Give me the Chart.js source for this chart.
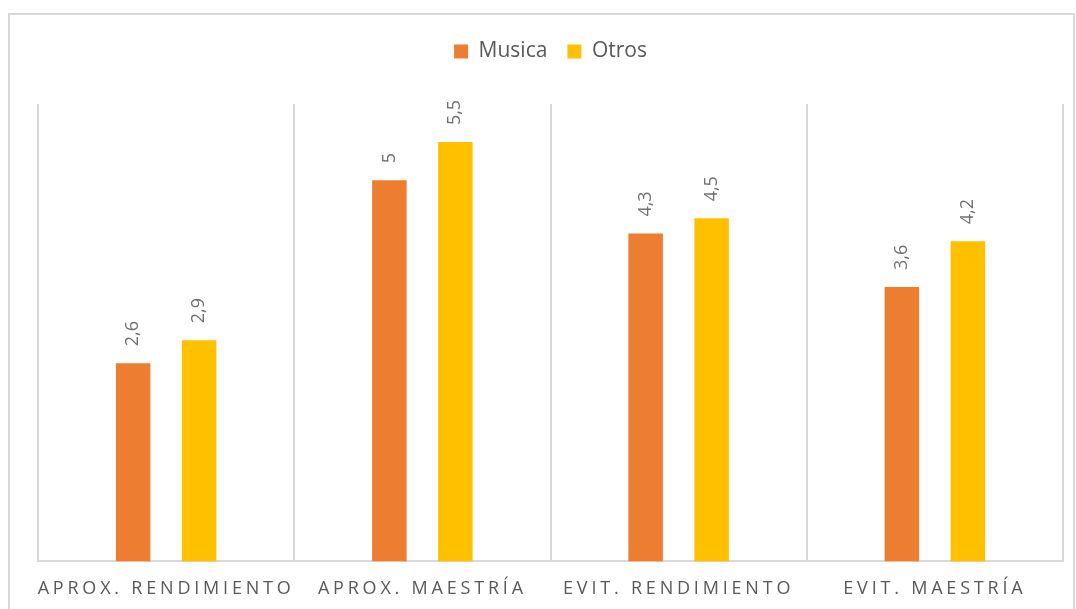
<!DOCTYPE html>
<html lang="es">
<head>
<meta charset="utf-8">
<title>Musica vs Otros</title>
<script src="https://cdn.jsdelivr.net/npm/chart.js@4/dist/chart.umd.min.js"></script>
<style>
  html, body { margin: 0; padding: 0; width: 1076px; height: 609px; overflow: hidden; background: #fff; position: relative; }
  .frame { position: absolute; left: 8px; top: 13px; width: 1063px; height: 640px; border: 2px solid #d9d9d9; }
  #goalsChart { position: absolute; left: 0; top: 0; }
</style>
</head>
<body>
<div class="frame"></div>
<canvas id="goalsChart" width="1076" height="620"></canvas>

<script>
// --- DATA ---
const categories = ['APROX. RENDIMIENTO', 'APROX. MAESTRÍA', 'EVIT. RENDIMIENTO', 'EVIT. MAESTRÍA'];
const musica = [2.6, 5, 4.3, 3.6];
const otros  = [2.9, 5.5, 4.5, 4.2];
const yMin = 0;
const yMax = 6;

const ORANGE = '#ED7D31';
const GOLD   = '#FFC000';
const TEXT   = '#595959';
const GRID   = '#d9d9d9';

Chart.defaults.font.family = '"Open Sans", "Liberation Sans", sans-serif';

// decimal comma, like the source sheet
function fmt(v) { return String(v).replace('.', ','); }

// --- PLUGINS ---
// extra gap between the legend and the plot
const legendGap = {
  id: 'legendGap',
  beforeInit(chart) {
    const fit = chart.legend.fit;
    chart.legend.fit = function () {
      fit.bind(chart.legend)();
      this.height += 32;
    };
  }
};

// rotated value labels above each bar, then letter spacing for the x labels (drawn at z 1)
const barValues = {
  id: 'barValues',
  afterDatasetsDraw(chart) {
    const ctx = chart.ctx;
    ctx.save();
    ctx.font = '18px "Open Sans", sans-serif';
    ctx.fillStyle = '#707070';
    ctx.textAlign = 'left';
    ctx.textBaseline = 'middle';
    chart.data.datasets.forEach((ds, i) => {
      chart.getDatasetMeta(i).data.forEach((bar, j) => {
        ctx.save();
        ctx.translate(bar.x, bar.y - 17);
        ctx.rotate(-Math.PI / 2);
        ctx.fillText(fmt(ds.data[j]), 0, 0);
        ctx.restore();
      });
    });
    ctx.restore();
    ctx.letterSpacing = '3.8px';
  },
  afterDraw(chart) {
    chart.ctx.letterSpacing = '0px';
  }
};

// --- CHART ---
new Chart(document.getElementById('goalsChart'), {
  type: 'bar',
  data: {
    labels: categories,
    datasets: [
      { label: 'Musica', data: musica, backgroundColor: ORANGE, barPercentage: 0.523, categoryPercentage: 0.515 },
      { label: 'Otros',  data: otros,  backgroundColor: GOLD,   barPercentage: 0.523, categoryPercentage: 0.515 }
    ]
  },
  options: {
    responsive: false,
    animation: false,
    layout: { padding: { left: 38, right: 13, top: 21, bottom: 3 } },
    plugins: {
      legend: {
        position: 'top',
        labels: { boxWidth: 14, boxHeight: 14, padding: 20, color: TEXT, font: { size: 21 } }
      },
      tooltip: { enabled: false }
    },
    scales: {
      x: {
        grid: { color: GRID, lineWidth: 2, drawTicks: false, offset: true },
        border: { color: GRID, width: 2 },
        ticks: { color: TEXT, font: { size: 18 }, padding: 17, maxRotation: 0, autoSkip: false, z: 1 }
      },
      y: {
        display: false,
        min: yMin,
        max: yMax
      }
    }
  },
  plugins: [legendGap, barValues]
});
</script>
</body>
</html>
